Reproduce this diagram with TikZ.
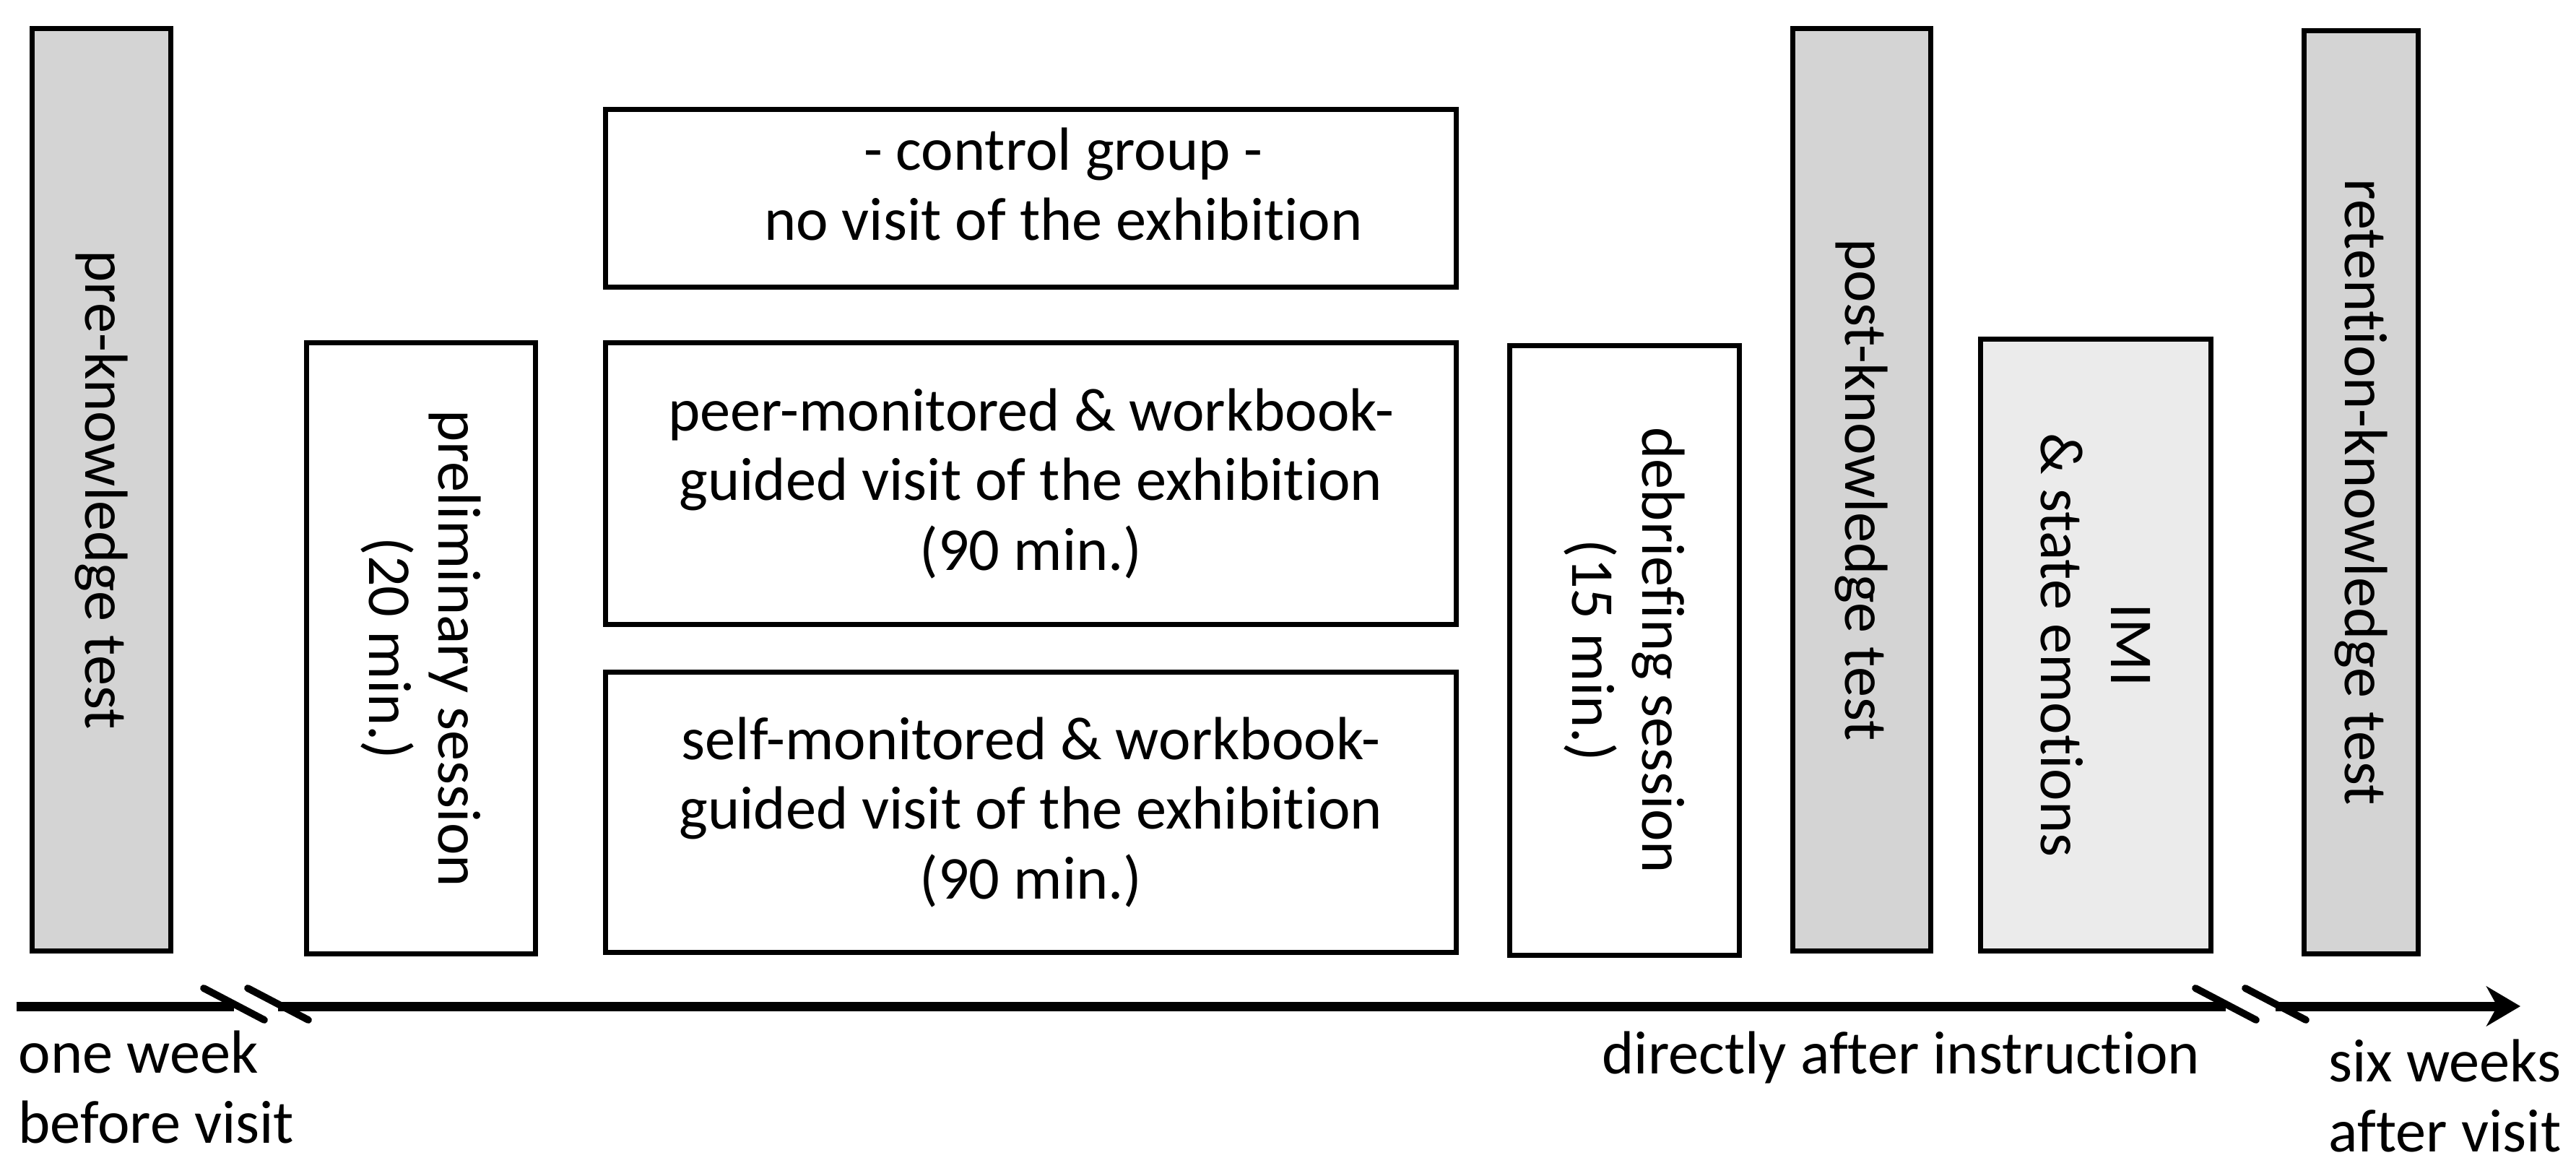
\documentclass[tikz,border=0pt]{standalone}
\usepackage{fontspec}
\setmainfont{Carlito}[Ligatures=NoCommon]
\usetikzlibrary{arrows.meta,calc}
\definecolor{testgray}{RGB}{212,212,212}
\definecolor{imigray}{RGB}{235,235,235}

\begin{document}
\begin{tikzpicture}[
		font=\fontsize{24}{27.5}\selectfont,
		box/.style={draw, line width=2pt, inner sep=0pt, align=center},
		testbox/.style={box, fill=testgray, rotate=-90},
		sessionbox/.style={box, fill=white, rotate=-90},
		groupbox/.style={box, fill=white},
		timeline/.style={line width=3.7pt},
		breakmark/.style={line width=2.8pt, line cap=round}
	]
	\useasboundingbox (0,0) rectangle (35.67,16.27);

	\node[testbox, minimum width=12.77cm, minimum height=1.92cm] (pre) at (1.405,9.49) {pre-knowledge test};
	\node[sessionbox, minimum width=8.46cm, minimum height=3.17cm] (prelim) at (5.83,7.295) {preliminary session\\(20 min.)};

	\node[groupbox, minimum width=11.78cm, minimum height=2.46cm, text depth=0.4cm] (control) at (14.275,13.525) {\hspace*{0.9cm}- control group -\\\hspace*{0.9cm}no visit of the exhibition};
	\node[groupbox, minimum width=11.78cm, minimum height=3.90cm] (peer) at (14.275,9.575) {peer-monitored \& workbook-\\guided visit of the exhibition\\(90 min.)};
	\node[groupbox, minimum width=11.78cm, minimum height=3.88cm] (self) at (14.275,5.025) {self-monitored \& workbook-\\guided visit of the exhibition\\(90 min.)};

	\node[sessionbox, minimum width=8.44cm, minimum height=3.18cm] (debrief) at (22.495,7.265) {debriefing session\\(15 min.)};
	\node[testbox, minimum width=12.77cm, minimum height=1.91cm] (post) at (25.78,9.49) {post-knowledge test};
	\node[sessionbox, fill=imigray, minimum width=8.47cm, minimum height=3.19cm] (imi) at (29.02,7.34) {IMI\\\& state emotions};
	\node[testbox, minimum width=12.78cm, minimum height=1.58cm] (retention) at (32.695,9.455) {retention-knowledge test};

	% time axis with two breaks
	\coordinate (t0) at (0.23,2.34);
	\coordinate (b1) at (3.24,2.34);
	\coordinate (b2) at (3.85,2.34);
	\coordinate (b3) at (30.82,2.34);
	\coordinate (b4) at (31.51,2.34);
	\coordinate (t1) at (34.90,2.34);
	\draw[timeline] (t0) -- (b1);
	\draw[timeline] (b2) -- (b3);
	\draw[timeline, -{Stealth[length=4.7mm, width=5.5mm, inset=1.5mm]}] (b4) -- (t1);
	\foreach \b in {b1,b2,b3,b4}
		\draw[breakmark] ($(\b)+(-0.42,0.25)$) -- ($(\b)+(0.42,-0.19)$);

	\node[anchor=base west, align=left, inner sep=0pt] (before) at (0.25,0.45) {one week\\before visit};
	\node[anchor=base east, inner sep=0pt] (direct) at (30.47,1.41) {directly after instruction};
	\node[anchor=base east, align=right, inner sep=0pt] (after) at (35.47,0.33) {six weeks\\after visit};
\end{tikzpicture}
\end{document}
